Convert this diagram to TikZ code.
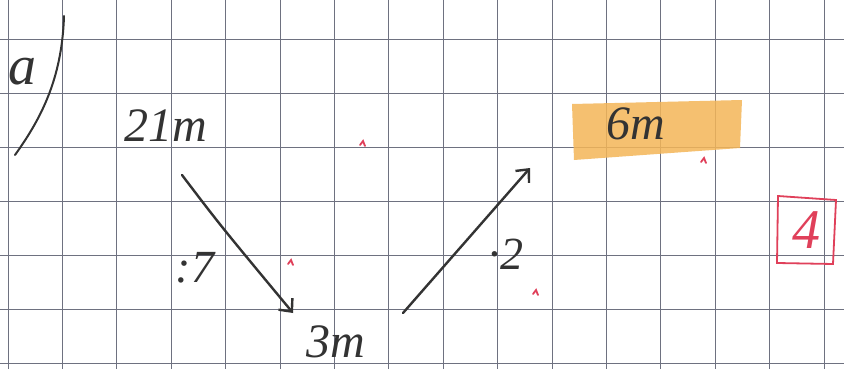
\documentclass[tikz,border=0pt]{standalone}
\usepackage{fontspec}
\setmainfont{Liberation Serif}
\usetikzlibrary{arrows.meta}
\definecolor{gridc}{HTML}{6E7180}
\definecolor{ink}{HTML}{333333}
\definecolor{redink}{HTML}{E0405A}
\definecolor{hl}{HTML}{F4B658}
\tikzset{
  hand/.style={text=ink, font=\fontsize{48}{48}\selectfont\itshape, inner sep=0pt},
  arr/.style={draw=ink, line width=2.4pt, line cap=round, -{Straight Barb[length=10pt,width=18pt,line width=2.4pt]}},
  tick/.style={draw=redink, line width=1.8pt, line cap=round},
  gridline/.style={draw=gridc, line width=0.9pt}
}
\begin{document}
\begin{tikzpicture}[x=1pt,y=-1pt]
\useasboundingbox (0,0) rectangle (844,369);
\fill[white] (0,0) rectangle (844,369);
% grid
\foreach \i in {0,...,15} {\draw[gridline] ({8+54.4*\i},0) -- ({8+54.4*\i},369);}
\foreach \j in {0,...,6} {\draw[gridline] (0,{39+54*\j}) -- (844,{39+54*\j});}
% highlight
\fill[hl, opacity=0.85] (572,104) -- (742,100) -- (740,148) -- (574,160) -- cycle;
% labels
\node[hand, font=\fontsize{56}{56}\selectfont\itshape] (a) at (23,72) {a};
\draw[ink, line width=2pt, line cap=round] (64,16) .. controls (62,80) and (40,120) .. (15,155);
\node[hand] (n21) at (166,126) {21m};
\node[hand] (n3) at (336,342) {3m};
\node[hand] (n6) at (636,124) {6m};
\node[hand, font=\fontsize{46}{46}\selectfont\itshape] (d7) at (195,268) {:7};
\node[hand, font=\fontsize{46}{46}\selectfont\itshape] (m2) at (506,254) {·2};
% arrows
\coordinate (s1) at (182,175);
\coordinate (e1) at (293,313);
\coordinate (s2) at (403,313);
\coordinate (e2) at (530,168);
\draw[arr] (s1) .. controls (220,225) .. (e1);
\draw[arr] (s2) -- (e2);
% red ticks
\foreach \p in {(362,143),(290,262),(535,292),(703,160)} {
  \draw[tick] \p ++(-2,2) -- ++(3,-4) -- ++(2,5);
}
% red box with 4
\draw[redink, line width=1.8pt] (778,196) -- (836,200) -- (833,264) -- (777,263) -- cycle;
\node[text=redink, font=\fontsize{56}{56}\selectfont\itshape, inner sep=0pt] (four) at (806,230) {4};
\end{tikzpicture}
\end{document}
